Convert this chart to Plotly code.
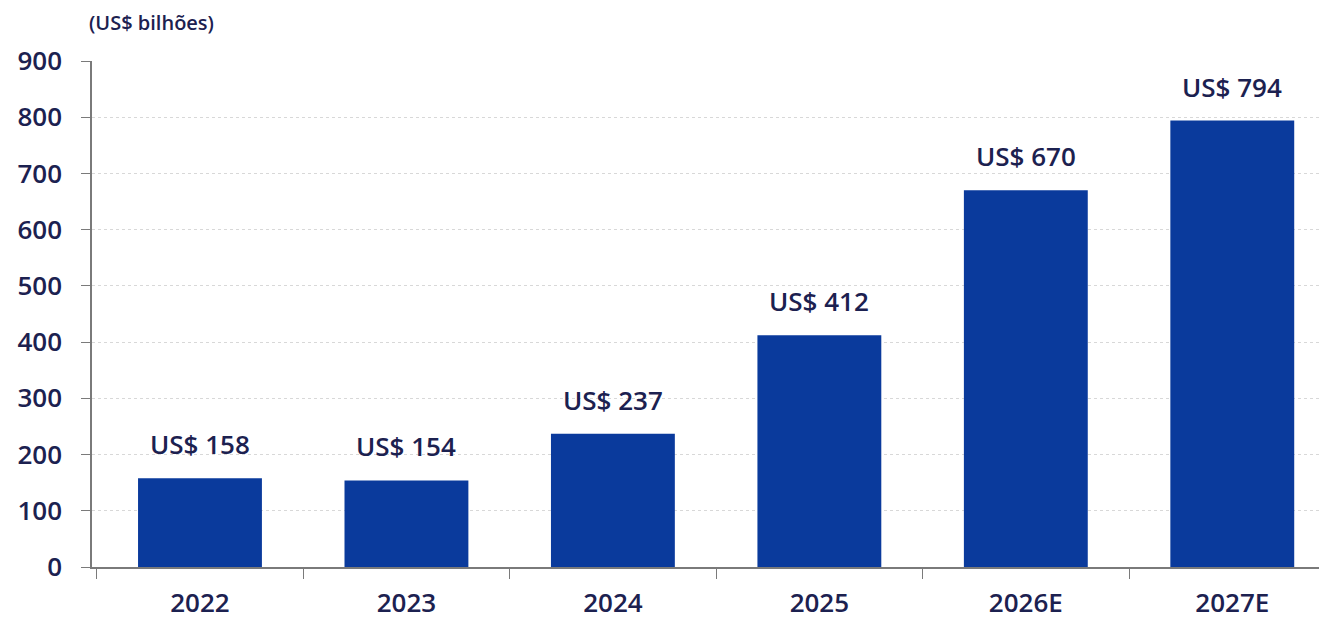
import plotly.graph_objects as go

# Data
years = ["2022", "2023", "2024", "2025", "2026E", "2027E"]
values = [158, 154, 237, 412, 670, 794]
value_labels = ["US$ 158", "US$ 154", "US$ 237", "US$ 412", "US$ 670", "US$ 794"]
y_ticks = [0, 100, 200, 300, 400, 500, 600, 700, 800, 900]

NAVY = "#1c2150"
BAR = "#0a3a9c"
FONT = "Open Sans"

fig = go.Figure(
    go.Bar(
        x=years,
        y=values,
        marker=dict(color=BAR, line=dict(width=0)),
        width=0.6,
        hoverinfo="x+y",
    )
)

# Value labels placed above each bar (category index as x position)
annotations = [
    dict(
        x=i, y=v, xref="x", yref="y",
        text=lbl, showarrow=False,
        xanchor="center", yanchor="bottom", yshift=14,
        font=dict(family=FONT, size=26, color=NAVY, weight=600),
    )
    for i, (v, lbl) in enumerate(zip(values, value_labels))
]
annotations.append(
    dict(
        text="(US$ bilhões)",
        xref="paper", yref="paper",
        x=-0.004, y=1.045,
        xanchor="left", yanchor="bottom",
        showarrow=False,
        font=dict(family=FONT, size=20, color=NAVY, weight=600),
    )
)

fig.update_layout(
    width=1319,
    height=620,
    margin=dict(l=92, r=0, t=61, b=53),
    plot_bgcolor="white",
    paper_bgcolor="white",
    showlegend=False,
    font=dict(family=FONT, color=NAVY),
    annotations=annotations,
)

fig.update_xaxes(
    type="category",
    range=[-0.523, 5.42],
    showline=True,
    linecolor="#7a7a7a",
    linewidth=1.5,
    ticks="outside",
    tickson="boundaries",
    ticklen=10,
    tickcolor="#7a7a7a",
    ticklabelstandoff=12,
    showgrid=False,
    tickfont=dict(family=FONT, size=26, color=NAVY, weight=600),
)

fig.update_yaxes(
    range=[0, 900],
    tickvals=y_ticks,
    showline=True,
    linecolor="#7a7a7a",
    linewidth=1.5,
    ticks="outside",
    ticklen=9,
    tickcolor="#7a7a7a",
    ticklabelstandoff=14,
    showgrid=True,
    gridcolor="#d8d8d8",
    griddash="dot",
    gridwidth=1,
    zeroline=False,
    tickfont=dict(family=FONT, size=26, color=NAVY, weight=600),
)

fig.write_html("out.html")
